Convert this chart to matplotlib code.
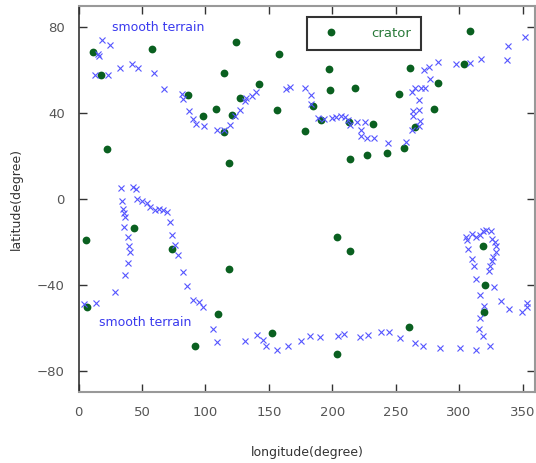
import matplotlib
matplotlib.use("Agg")
from matplotlib import pyplot as plt

# crater positions (longitude, latitude)
crater_lon = [11.7, 17.5, 57.6, 22.7, 86.2, 98.0, 108.5, 114.6, 114.8, 118.3,
              124.0, 157.9, 197.2, 126.9, 142.6, 120.9, 156.8, 198.0, 217.7, 184.9,
              191.2, 178.6, 213.2, 231.9, 213.8, 227.4, 308.8, 261.6, 283.3, 303.5,
              252.4, 279.9, 265.5, 243.4, 256.3,
              6.2, 43.4, 73.9, 6.4, 109.8, 92.0, 118.8, 203.8, 214.3, 152.6,
              203.8, 260.8, 318.8, 320.4, 319.6]
crater_lat = [68.5, 57.5, 69.7, 23.1, 48.5, 38.7, 42.0, 31.1, 58.6, 16.8,
              73.3, 67.3, 60.4, 47.1, 53.6, 39.3, 41.6, 50.6, 51.7, 43.1,
              36.7, 31.5, 35.7, 35.1, 18.8, 20.4, 78.4, 61.0, 53.9, 62.9,
              48.8, 42.1, 33.7, 21.5, 23.6,
              -19.2, -13.4, -23.3, -50.5, -53.7, -68.6, -32.6, -17.9, -24.4, -62.4,
              -72.4, -59.6, -21.7, -40.2, -52.7]

# smooth terrain boundary points
terrain_lon = [18.2, 24.5, 15.5, 16.5, 13.3, 22.9, 32.7, 42.1, 46.6, 59.4,
               67.1, 81.5, 82.3, 87.2, 89.9, 93.0, 99.1, 109.1, 114.6,
               119.3, 123.5, 127.2, 131.1, 132.4, 137.1, 140.3, 163.9, 166.5, 178.6,
               183.0, 183.3, 189.1, 193.8, 199.7, 202.8, 206.7, 209.8, 212.2, 213.8,
               219.8, 225.8, 222.5, 223.0, 227.2, 233.3,
               243.7, 258.4, 263.1, 263.4, 263.6, 268.4, 268.1, 269.2, 268.4, 263.1,
               265.2, 269.7, 273.1, 277.3, 272.3, 276.2, 283.3, 297.5, 308.3, 317.0,
               337.4, 338.7, 352.0,
               33.5, 42.6, 45.3, 34.0, 46.1, 50.0, 53.9, 56.3, 60.5, 63.6,
               66.8, 69.4, 34.8, 36.1, 36.6, 35.6, 38.7, 40.0, 40.5, 38.7,
               36.9, 29.0, 4.1, 13.8, 71.8, 73.6, 75.7, 78.6, 82.5, 85.2,
               89.9, 95.1, 98.0, 106.2, 108.8,
               131.1, 140.6, 145.5, 147.6, 156.6, 165.5, 175.5, 182.3, 190.7, 204.9,
               209.6, 222.2, 228.2, 238.2, 244.8, 253.7, 265.0, 271.8, 284.6, 300.4,
               313.5, 324.7,
               315.6, 319.0, 316.1, 319.6, 316.1, 313.5, 333.2, 339.2, 349.7, 353.8,
               353.8, 305.1, 306.4, 310.4, 313.0, 316.4, 318.8, 321.6, 324.8, 326.1,
               328.2, 329.2, 329.2, 326.6, 325.6, 324.0, 323.5, 306.7, 309.9, 312.0,
               327.7]
terrain_lat = [73.8, 71.6, 67.5, 66.5, 57.5, 57.5, 61.1, 62.8, 61.0, 58.6,
               51.0, 49.1, 46.7, 41.0, 37.3, 35.1, 34.2, 32.2, 31.9,
               34.3, 38.8, 41.6, 45.5, 47.2, 47.8, 49.7, 51.3, 52.2, 51.6,
               48.6, 44.1, 37.6, 37.3, 37.6, 38.2, 38.5, 38.2, 37.0, 34.6,
               35.7, 35.7, 32.0, 29.5, 28.5, 28.5,
               26.0, 26.7, 32.0, 41.2, 38.5, 41.6, 46.0, 36.1, 34.2, 49.6,
               51.9, 51.8, 51.8, 55.9, 60.1, 61.5, 63.6, 63.0, 63.5, 65.3,
               64.7, 71.2, 75.5,
               5.1, 5.4, 4.6, -0.8, 0.1, -0.8, -1.9, -3.5, -5.0, -4.7,
               -5.0, -6.1, -4.5, -6.5, -8.5, -13.0, -17.9, -21.7, -24.7, -30.0,
               -35.6, -43.5, -48.8, -48.5, -10.6, -16.6, -21.3, -26.1, -34.0, -40.7,
               -46.9, -48.0, -50.2, -60.4, -66.6,
               -66.0, -63.5, -65.6, -68.3, -70.1, -68.3, -66.0, -63.9, -64.3, -63.9,
               -62.9, -64.3, -63.2, -61.7, -61.7, -64.5, -67.2, -68.3, -69.4, -69.6,
               -70.1, -68.6,
               -60.6, -63.7, -55.4, -49.7, -44.9, -37.1, -47.7, -51.1, -52.7, -50.3,
               -48.2, -17.9, -19.0, -16.3, -17.9, -16.9, -15.1, -14.4, -15.1, -18.5,
               -20.2, -22.1, -24.7, -27.1, -28.8, -31.0, -33.4, -23.2, -28.0, -31.0,
               -40.9]

x_ticks = [0, 50, 100, 150, 200, 250, 300, 350]
y_ticks = [-80, -40, 0, 40, 80]

fig = plt.figure(figsize=(5.36, 4.63), dpi=100)
ax = fig.add_axes([0.1465, 0.1527, 0.852, 0.835])

ax.plot(crater_lon, crater_lat, 'o', color='#0a6020', markersize=5.6,
        markeredgewidth=0, label='crator', zorder=2)
ax.plot(terrain_lon, terrain_lat, 'x', color='#5555ff', markersize=4.2,
        markeredgewidth=0.8, zorder=3)

ax.text(26, 80, 'smooth terrain', color='#3a3aee', fontsize=9, va='center')
ax.text(16.5, -57.5, 'smooth terrain', color='#3a3aee', fontsize=9, va='center')

ax.set_xlim(0, 360)
ax.set_ylim(-90, 90)
ax.set_xticks(x_ticks)
ax.set_yticks(y_ticks)
ax.tick_params(direction='in', length=6, width=1, top=True, right=True,
               labelsize=9.5, labelcolor='#555555', color='#333333')
ax.tick_params(axis='x', pad=10)
ax.tick_params(axis='y', pad=10)
ax.set_xlabel('longitude(degree)', fontsize=9, color='#333333', labelpad=19)
ax.set_ylabel('latitude(degree)', fontsize=9, color='#333333', labelpad=10)

for side in ['top', 'right', 'bottom']:
    ax.spines[side].set_color('#999999')
    ax.spines[side].set_linewidth(1.5)
ax.spines['left'].set_color('#333333')
ax.spines['left'].set_linewidth(1.2)

leg = ax.legend(loc='upper left', bbox_to_anchor=(0.494, 0.978), fancybox=False,
                shadow=False, edgecolor='black', fontsize=9.5, labelcolor='#2a7a3a',
                handletextpad=1.9, borderpad=0.75, handlelength=2.2,
                borderaxespad=0.2)
leg.get_frame().set_linewidth(1.5)

fig.savefig('out.png', dpi=100)
